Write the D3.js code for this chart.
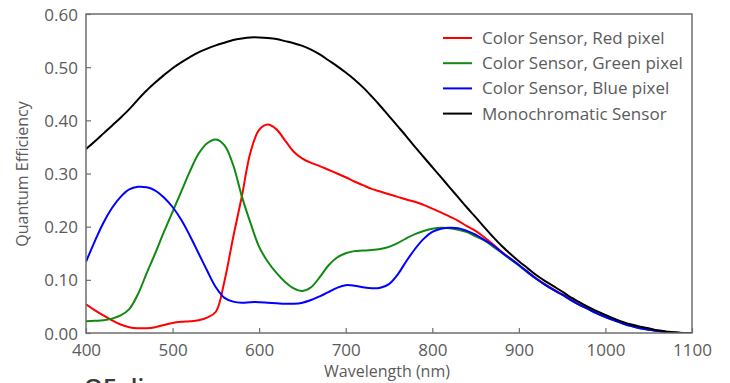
<!DOCTYPE html>
<html>
<head>
<meta charset="utf-8">
<script src="https://cdn.jsdelivr.net/npm/d3@7/dist/d3.min.js"></script>
<style>
  html, body { margin: 0; padding: 0; background: #fff; }
  svg { display: block; font-family: "Open Sans", "Noto Sans", sans-serif; }
</style>
</head>
<body>
<svg id="chart" width="730" height="383"></svg>
<script>
// ---- Data ----
const wavelengths = d3.range(400, 1101, 10);

const xTicks = [400, 500, 600, 700, 800, 900, 1000, 1100];
const yTicks = [0, 0.1, 0.2, 0.3, 0.4, 0.5, 0.6];

const seriesNames = [
  "Color Sensor, Red pixel",
  "Color Sensor, Green pixel",
  "Color Sensor, Blue pixel",
  "Monochromatic Sensor"
];
const seriesColors = ["#ff0000", "#108a10", "#0000ff", "#000000"];

// 400..1100 step 10
const redPixel = [
  0.054, 0.043, 0.033, 0.024, 0.016, 0.011, 0.009, 0.009, 0.011, 0.015,
  0.019, 0.021, 0.022, 0.024, 0.029, 0.040, 0.098, 0.180, 0.257, 0.340,
  0.382, 0.392, 0.383, 0.362, 0.341, 0.328, 0.320, 0.314, 0.307, 0.300,
  0.293, 0.285, 0.278, 0.271, 0.266, 0.261, 0.256, 0.251, 0.247, 0.241,
  0.234, 0.227, 0.219, 0.211, 0.201, 0.192, 0.180, 0.167, 0.153, 0.140,
  0.128, 0.115, 0.103, 0.092, 0.082, 0.073, 0.063, 0.054, 0.046, 0.038,
  0.031, 0.025, 0.019, 0.014, 0.010, 0.007, 0.004, 0.002, 0.001, 0.000,
  0.000
];
const greenPixel = [
  0.022, 0.023, 0.024, 0.027, 0.033, 0.045, 0.073, 0.112, 0.150, 0.190,
  0.228, 0.266, 0.304, 0.337, 0.357, 0.364, 0.353, 0.316, 0.257, 0.207,
  0.162, 0.134, 0.113, 0.096, 0.084, 0.079, 0.086, 0.105, 0.127, 0.142,
  0.150, 0.154, 0.155, 0.156, 0.158, 0.162, 0.169, 0.178, 0.186, 0.192,
  0.196, 0.198, 0.197, 0.194, 0.190, 0.182, 0.174, 0.163, 0.151, 0.139,
  0.127, 0.114, 0.102, 0.091, 0.081, 0.072, 0.062, 0.053, 0.045, 0.037,
  0.030, 0.024, 0.018, 0.013, 0.009, 0.006, 0.004, 0.002, 0.001, 0.000,
  0.000
];
const bluePixel = [
  0.134, 0.172, 0.207, 0.235, 0.256, 0.270, 0.275, 0.274, 0.268, 0.255,
  0.237, 0.213, 0.183, 0.150, 0.117, 0.086, 0.066, 0.059, 0.057, 0.058,
  0.058, 0.057, 0.056, 0.055, 0.055, 0.057, 0.062, 0.069, 0.077, 0.085,
  0.090, 0.089, 0.086, 0.084, 0.085, 0.092, 0.110, 0.135, 0.158, 0.177,
  0.190, 0.196, 0.198, 0.197, 0.192, 0.185, 0.175, 0.165, 0.152, 0.140,
  0.128, 0.115, 0.102, 0.091, 0.081, 0.072, 0.062, 0.053, 0.045, 0.037,
  0.030, 0.024, 0.018, 0.013, 0.009, 0.006, 0.004, 0.002, 0.001, 0.000,
  0.000
];
const monoSensor = [
  0.346, 0.360, 0.375, 0.390, 0.405, 0.421, 0.439, 0.456, 0.471, 0.485,
  0.498, 0.509, 0.519, 0.528, 0.535, 0.541, 0.546, 0.551, 0.554, 0.556,
  0.556, 0.555, 0.553, 0.549, 0.545, 0.540, 0.533, 0.524, 0.513, 0.502,
  0.490, 0.477, 0.462, 0.445, 0.427, 0.408, 0.389, 0.370, 0.350, 0.331,
  0.312, 0.293, 0.274, 0.255, 0.236, 0.218, 0.199, 0.181, 0.164, 0.149,
  0.135, 0.122, 0.109, 0.098, 0.088, 0.078, 0.067, 0.058, 0.049, 0.041,
  0.034, 0.027, 0.021, 0.016, 0.012, 0.009, 0.005, 0.003, 0.001, 0.000,
  0.000
];

const allSeries = [redPixel, greenPixel, bluePixel, monoSensor];

// ---- Layout ----
const W = 730, H = 383;
const margin = { left: 86, top: 14, right: 38, bottom: 50 };
const iw = W - margin.left - margin.right;
const ih = H - margin.top - margin.bottom;
const textColor = "#5b5b5b";
const frameColor = "#6e6e6e";

const svg = d3.select("#chart");
const g = svg.append("g").attr("transform", `translate(${margin.left},${margin.top})`);

const x = d3.scaleLinear().domain([400, 1100]).range([0, iw]);
const y = d3.scaleLinear().domain([0, 0.6]).range([ih, 0]);

svg.append("defs").append("clipPath").attr("id", "clip")
  .append("rect").attr("x", 0).attr("y", -2).attr("width", iw).attr("height", ih + 2);

const line = d3.line()
  .x((d, i) => x(wavelengths[i]))
  .y(d => y(d))
  .curve(d3.curveCatmullRom.alpha(0.5));

const plot = g.append("g").attr("clip-path", "url(#clip)");
plot.selectAll("path.series")
  .data(allSeries)
  .join("path")
  .attr("class", "series")
  .attr("fill", "none")
  .attr("stroke", (d, i) => seriesColors[i])
  .attr("stroke-width", 2)
  .attr("stroke-linejoin", "round")
  .attr("d", line);

// Frame
g.append("rect")
  .attr("x", 0).attr("y", 0).attr("width", iw).attr("height", ih)
  .attr("fill", "none").attr("stroke", frameColor).attr("stroke-width", 1.5);

// Axes
const xAxis = g.append("g")
  .attr("transform", `translate(0,${ih})`)
  .call(d3.axisBottom(x).tickValues(xTicks).tickFormat(d3.format("d"))
    .tickSize(-5).tickPadding(11));
const yAxis = g.append("g")
  .call(d3.axisLeft(y).tickValues(yTicks).tickFormat(d3.format(".2f"))
    .tickSize(-5).tickPadding(8));

[xAxis, yAxis].forEach(a => {
  a.select(".domain").remove();
  a.selectAll(".tick line").attr("stroke", frameColor).attr("stroke-width", 1.2);
  a.selectAll(".tick text").attr("fill", textColor).style("font-size", "17px")
    .style("font-family", "'Open Sans', sans-serif");
});
yAxis.selectAll(".tick text").attr("dy", "0.36em");

// Axis titles
svg.append("text")
  .attr("x", 387).attr("y", 377)
  .attr("text-anchor", "middle")
  .attr("fill", textColor)
  .style("font-size", "16px")
  .text("Wavelength (nm)");

svg.append("text")
  .attr("transform", "translate(28,174) rotate(-90)")
  .attr("text-anchor", "middle")
  .attr("fill", textColor)
  .style("font-size", "16px")
  .text("Quantum Efficiency");

// Legend
const legend = svg.append("g").attr("transform", "translate(443,38)");
const items = legend.selectAll("g.item")
  .data(seriesNames)
  .join("g")
  .attr("class", "item")
  .attr("transform", (d, i) => `translate(0,${i * 25.2})`);
items.append("line")
  .attr("x1", 0).attr("x2", 29).attr("y1", 0).attr("y2", 0)
  .attr("stroke", (d, i) => seriesColors[i]).attr("stroke-width", 2);
items.append("text")
  .attr("x", 39).attr("y", 6)
  .attr("fill", textColor)
  .style("font-size", "17px")
  .text(d => d);

// Cut-off heading below the chart
svg.append("text")
  .attr("x", 84).attr("y", 396)
  .attr("fill", "#3a3a3a")
  .style("font-size", "24px")
  .style("font-weight", "600")
  .text("QE diagrams");
</script>
</body>
</html>
